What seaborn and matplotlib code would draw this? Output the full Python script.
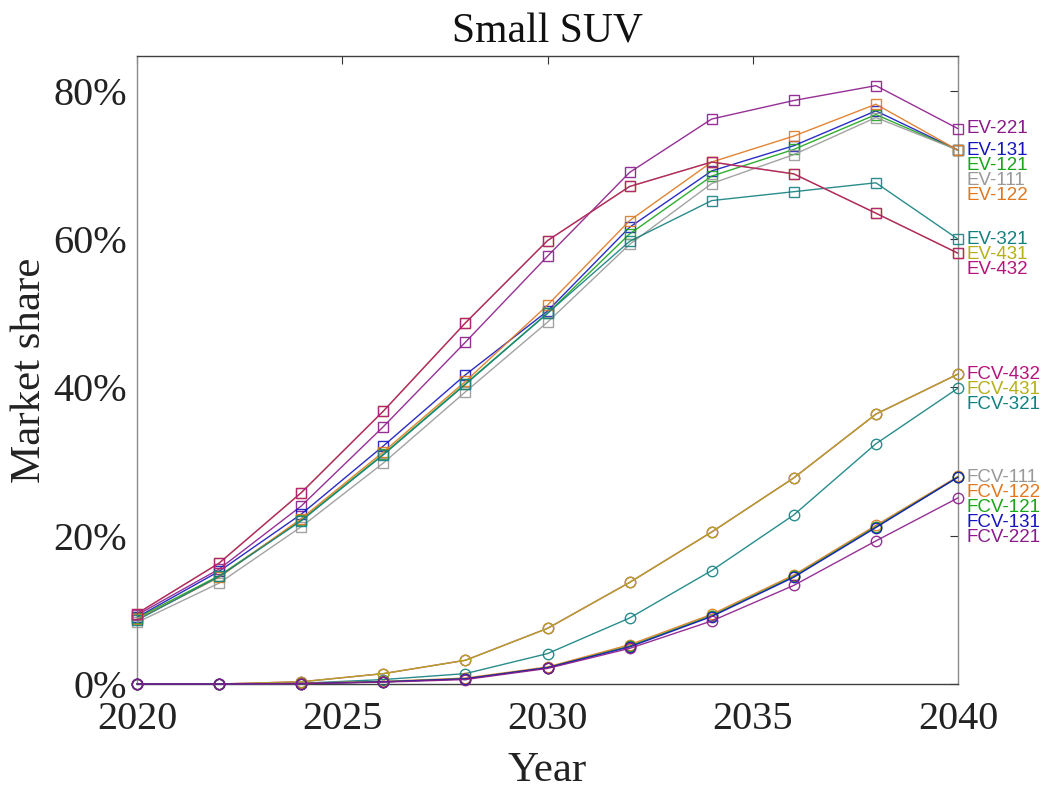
import matplotlib
matplotlib.use("Agg")
import matplotlib.pyplot as plt
import seaborn as sns
import numpy as np

years = [2020, 2022, 2024, 2026, 2028, 2030, 2032, 2034, 2036, 2038, 2040]

EV_221 = [9.3, 15.5, 24.0, 34.7, 46.1, 57.7, 69.0, 76.2, 78.7, 80.7, 74.9]
EV_131 = [9.0, 15.2, 22.9, 32.1, 41.7, 50.3, 61.6, 69.2, 72.6, 77.3, 72.0]
EV_121 = [8.9, 14.6, 22.1, 31.0, 40.5, 50.0, 60.7, 68.5, 72.1, 76.8, 72.0]
EV_111 = [8.3, 13.6, 21.2, 29.8, 39.4, 48.8, 59.3, 67.5, 71.4, 76.4, 72.0]
EV_122 = [8.7, 14.4, 22.3, 31.3, 40.8, 51.1, 62.5, 70.4, 73.9, 78.2, 72.0]
EV_321 = [8.6, 14.5, 22.0, 30.9, 40.4, 50.0, 59.7, 65.2, 66.4, 67.6, 60.0]
EV_431 = [9.5, 16.3, 25.8, 36.8, 48.7, 59.8, 67.1, 70.4, 68.8, 63.5, 58.1]
EV_432 = [9.5, 16.3, 25.8, 36.8, 48.7, 59.8, 67.1, 70.4, 68.8, 63.5, 58.1]

FCV_432 = [0.0, 0.0, 0.3, 1.4, 3.2, 7.5, 13.7, 20.5, 27.8, 36.4, 41.8]
FCV_431 = [0.0, 0.0, 0.3, 1.4, 3.2, 7.5, 13.7, 20.5, 27.8, 36.4, 41.8]
FCV_321 = [0.0, 0.0, 0.1, 0.6, 1.4, 4.1, 8.9, 15.3, 22.8, 32.4, 39.9]
FCV_111 = [0.0, 0.0, 0.05, 0.3, 0.7, 2.2, 5.1, 9.2, 14.5, 21.2, 27.9]
FCV_122 = [0.0, 0.0, 0.1, 0.35, 0.8, 2.3, 5.3, 9.4, 14.7, 21.4, 28.0]
FCV_121 = [0.0, 0.0, 0.05, 0.3, 0.7, 2.2, 5.1, 9.2, 14.5, 21.2, 27.9]
FCV_131 = [0.0, 0.0, 0.05, 0.3, 0.7, 2.2, 5.0, 9.1, 14.4, 21.1, 27.9]
FCV_221 = [0.0, 0.0, 0.05, 0.25, 0.6, 2.1, 4.8, 8.5, 13.3, 19.3, 25.1]

ev_names = ["EV-221", "EV-131", "EV-121", "EV-111", "EV-122", "EV-321", "EV-431", "EV-432"]
ev_values = [EV_221, EV_131, EV_121, EV_111, EV_122, EV_321, EV_431, EV_432]
fcv_names = ["FCV-432", "FCV-431", "FCV-321", "FCV-111", "FCV-122", "FCV-121", "FCV-131", "FCV-221"]
fcv_values = [FCV_432, FCV_431, FCV_321, FCV_111, FCV_122, FCV_121, FCV_131, FCV_221]

colors = {
    "221": "#8a1a8a",
    "131": "#1515c0",
    "121": "#1aa51a",
    "111": "#999999",
    "122": "#e07820",
    "321": "#138080",
    "431": "#b5b018",
    "432": "#b5157a",
}

y_ticks = [0, 20, 40, 60, 80]
y_tick_labels = ["0%", "20%", "40%", "60%", "80%"]
x_ticks = [2020, 2025, 2030, 2035, 2040]

sns.set_style("white")
plt.rcParams["font.family"] = ["Liberation Serif", "DejaVu Serif"]

fig = plt.figure(figsize=(10.42, 7.89), dpi=100)
ax = fig.add_axes([137 / 1042, 1 - 684 / 789, (958 - 137) / 1042, (684 - 56) / 789])

def draw(names, values, marker):
    for name, vals in zip(names, values):
        c = colors[name.split("-")[1]]
        sns.lineplot(x=years, y=vals, ax=ax, color=c, linewidth=1.0, alpha=0.9,
                     marker=marker, markersize=7.5 if marker == "o" else 7,
                     markerfacecolor="none", markeredgecolor=c, markeredgewidth=1.0,
                     clip_on=False, zorder=3)

draw(ev_names, ev_values, "s")
draw(fcv_names, fcv_values, "o")

ax.set_xlim(2020, 2040)
ax.set_ylim(0, 84.7)
ax.set_xticks(x_ticks)
ax.set_xticklabels([str(t) for t in x_ticks])
ax.set_yticks(y_ticks)
ax.set_yticklabels(y_tick_labels)
ax.tick_params(axis="both", direction="in", length=6, width=0.8, color="#333333",
               labelsize=29, top=True, right=True, labelcolor="#222222")
ax.tick_params(axis="x", pad=12)
ax.tick_params(axis="y", pad=7)

for side in ["left", "right"]:
    ax.spines[side].set_color("#8c8c8c")
    ax.spines[side].set_linewidth(1.0)
for side in ["top", "bottom"]:
    ax.spines[side].set_color("#404040")
    ax.spines[side].set_linewidth(1.0)

ax.set_title("Small SUV", fontsize=30, pad=10, color="#111111")
ax.set_xlabel("Year", fontsize=31, labelpad=10, color="#222222")
ax.set_ylabel("Market share", fontsize=31, labelpad=3, color="#222222")

# end labels, pushed down to avoid overlaps
gap = 2.05
prev = None
for name, vals in zip(ev_names + fcv_names, ev_values + fcv_values):
    y = vals[-1]
    if prev is not None:
        y = min(y, prev - gap)
    prev = y
    c = colors[name.split("-")[1]]
    ax.annotate(name, xy=(2040, y), xytext=(6, 0), textcoords="offset points",
                va="center", ha="left", fontsize=13.5, color=c,
                family=["Liberation Sans", "DejaVu Sans"], annotation_clip=False)

fig.savefig("out.png", dpi=100)
